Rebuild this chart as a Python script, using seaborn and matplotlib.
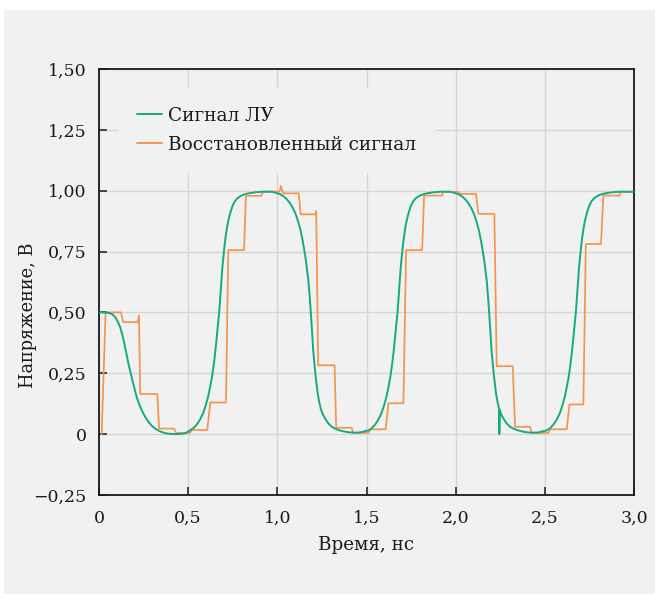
import matplotlib
matplotlib.use("Agg")
import matplotlib.pyplot as plt
import seaborn as sns
import pandas as pd
from matplotlib.patches import Rectangle

# ---- data ----
green_t = [0.0, 0.03, 0.06, 0.075, 0.09, 0.104, 0.118, 0.13, 0.142, 0.153, 0.165, 0.176, 0.187, 0.199, 0.211, 0.225,
           0.239, 0.258, 0.277, 0.295, 0.314, 0.34, 0.37, 0.40, 0.426, 0.455, 0.482,
           # rise 1
           0.509, 0.53, 0.547, 0.565, 0.584, 0.598, 0.612, 0.623, 0.634, 0.643, 0.651, 0.658, 0.664, 0.674, 0.683, 0.692,
           0.703, 0.71, 0.718, 0.727, 0.737, 0.748, 0.761, 0.778, 0.799, 0.82, 0.845, 0.88, 0.92, 0.97,
           # fall 1
           1.015, 1.035, 1.052, 1.072, 1.09, 1.105, 1.118, 1.131, 1.142, 1.151, 1.16, 1.174, 1.183, 1.192, 1.201, 1.213,
           1.226, 1.234, 1.243, 1.254, 1.267, 1.285, 1.304, 1.325, 1.351, 1.38, 1.407, 1.435, 1.463,
           # rise 2
           1.509, 1.53, 1.547, 1.565, 1.584, 1.598, 1.612, 1.623, 1.634, 1.643, 1.651, 1.658, 1.664, 1.674, 1.683, 1.692,
           1.703, 1.71, 1.718, 1.727, 1.737, 1.748, 1.761, 1.778, 1.799, 1.82, 1.845, 1.88, 1.92, 1.97,
           # fall 2 (with glitch)
           2.015, 2.035, 2.052, 2.072, 2.09, 2.105, 2.118, 2.131, 2.142, 2.151, 2.16, 2.174, 2.183, 2.192, 2.201, 2.213,
           2.226, 2.234, 2.242, 2.244, 2.245, 2.247, 2.254, 2.267, 2.285, 2.304, 2.325, 2.351, 2.38, 2.407, 2.435, 2.463,
           # rise 3
           2.509, 2.53, 2.547, 2.565, 2.584, 2.598, 2.612, 2.623, 2.634, 2.643, 2.651, 2.658, 2.664, 2.674, 2.683, 2.692,
           2.703, 2.71, 2.718, 2.727, 2.737, 2.748, 2.761, 2.778, 2.799, 2.82, 2.845, 2.88, 2.92, 2.97, 3.0]
green_v = [0.5, 0.5, 0.497, 0.492, 0.482, 0.464, 0.441, 0.41, 0.373, 0.333, 0.29, 0.256, 0.222, 0.187, 0.153, 0.124,
           0.099, 0.072, 0.051, 0.035, 0.023, 0.012, 0.004, 0.001, 0.0, 0.001, 0.003,
           # rise 1
           0.015, 0.025, 0.038, 0.058, 0.086, 0.117, 0.154, 0.193, 0.236, 0.283, 0.332, 0.38, 0.427, 0.5, 0.591, 0.686,
           0.768, 0.81, 0.85, 0.883, 0.911, 0.936, 0.956, 0.97, 0.98, 0.986, 0.99, 0.994, 0.996, 0.996,
           # fall 1
           0.986, 0.977, 0.966, 0.948, 0.925, 0.9, 0.87, 0.835, 0.795, 0.756, 0.714, 0.632, 0.55, 0.454, 0.345, 0.25,
           0.168, 0.135, 0.106, 0.083, 0.065, 0.045, 0.031, 0.022, 0.015, 0.01, 0.007, 0.006, 0.007,
           # rise 2
           0.015, 0.025, 0.038, 0.058, 0.086, 0.117, 0.154, 0.193, 0.236, 0.283, 0.332, 0.38, 0.427, 0.5, 0.591, 0.686,
           0.768, 0.81, 0.85, 0.883, 0.911, 0.936, 0.956, 0.97, 0.98, 0.986, 0.99, 0.994, 0.996, 0.996,
           # fall 2
           0.986, 0.977, 0.966, 0.948, 0.925, 0.9, 0.87, 0.835, 0.795, 0.756, 0.714, 0.632, 0.55, 0.454, 0.345, 0.25,
           0.168, 0.135, 0.108, 0.104, 0.0, 0.10, 0.083, 0.065, 0.045, 0.031, 0.022, 0.015, 0.01, 0.007, 0.006, 0.007,
           # rise 3
           0.015, 0.025, 0.038, 0.058, 0.086, 0.117, 0.154, 0.193, 0.236, 0.283, 0.332, 0.38, 0.427, 0.5, 0.591, 0.686,
           0.768, 0.81, 0.85, 0.883, 0.911, 0.936, 0.956, 0.97, 0.98, 0.986, 0.99, 0.994, 0.996, 0.996, 0.995]

orange_t = [0.015, 0.037, 0.123, 0.136, 0.217, 0.224, 0.231, 0.327, 0.337, 0.421, 0.432, 0.51, 0.52, 0.607, 0.624,
            0.712, 0.725, 0.813, 0.824, 0.91, 0.919, 1.012, 1.02, 1.033, 1.12, 1.131, 1.213, 1.218, 1.229, 1.321, 1.33,
            1.417, 1.425, 1.51, 1.523, 1.608, 1.623, 1.707, 1.722, 1.812, 1.823, 1.922, 1.931, 2.015, 2.025, 2.114, 2.127,
            2.217, 2.23, 2.32, 2.333, 2.417, 2.426, 2.52, 2.53, 2.623, 2.638, 2.716, 2.73, 2.815, 2.828, 2.918, 2.925, 3.0]
orange_v = [0.0, 0.5, 0.5, 0.46, 0.46, 0.487, 0.165, 0.165, 0.023, 0.023, 0.005, 0.005, 0.017, 0.017, 0.13,
            0.13, 0.756, 0.756, 0.979, 0.979, 0.996, 0.996, 1.019, 0.989, 0.989, 0.903, 0.903, 0.917, 0.283, 0.283, 0.026,
            0.026, 0.005, 0.005, 0.02, 0.02, 0.127, 0.127, 0.756, 0.756, 0.98, 0.98, 0.995, 0.995, 0.987, 0.987, 0.905,
            0.905, 0.279, 0.279, 0.03, 0.03, 0.005, 0.005, 0.02, 0.02, 0.122, 0.122, 0.781, 0.781, 0.98, 0.98, 0.995, 0.995]

x_ticks = [0, 0.5, 1.0, 1.5, 2.0, 2.5, 3.0]
x_tick_labels = ["0", "0,5", "1,0", "1,5", "2,0", "2,5", "3,0"]
y_ticks = [-0.25, 0, 0.25, 0.5, 0.75, 1.0, 1.25, 1.5]
y_tick_labels = ["\u22120,25", "0", "0,25", "0,50", "0,75", "1,00", "1,25", "1,50"]

series_names = ["Сигнал ЛУ", "Восстановленный сигнал"]
x_label = "Время, нс"
y_label = "Напряжение, В"

# ---- styling ----
BG = "#f1f1f1"
GREEN = "#15ab7e"
ORANGE = "#f5954c"
INK = "#1a1a1a"

sns.set_theme(style="ticks")
plt.rcParams["font.family"] = ["DejaVu Serif", "DejaVu Sans"]

fig = plt.figure(figsize=(6.55, 5.94), dpi=100, facecolor="white")
fig.patches.append(Rectangle((4 / 655, 0), 1 - 4 / 655, 1 - 10 / 594, transform=fig.transFigure,
                             facecolor=BG, edgecolor="none", zorder=-10))
ax = fig.add_axes([99 / 655, 1 - 495 / 594, 535 / 655, 426 / 594])
ax.set_facecolor(BG)

df_g = pd.DataFrame({"t": green_t, "v": green_v})
df_o = pd.DataFrame({"t": orange_t, "v": orange_v})

sns.lineplot(data=df_g, x="t", y="v", ax=ax, color=GREEN, linewidth=1.4, estimator=None, sort=False,
             label=series_names[0], zorder=3)
sns.lineplot(data=df_o, x="t", y="v", ax=ax, color=ORANGE, linewidth=1.25, estimator=None, sort=False,
             label=series_names[1], zorder=2)

ax.set_xlim(0, 3.0)
ax.set_ylim(-0.25, 1.5)
ax.set_xticks(x_ticks)
ax.set_xticklabels(x_tick_labels)
ax.set_yticks(y_ticks)
ax.set_yticklabels(y_tick_labels)

ax.grid(True, color="#d5d5d5", linewidth=1.0)
ax.set_axisbelow(True)
for s in ax.spines.values():
    s.set_visible(True)
    s.set_color(INK)
    s.set_linewidth(1.3)

ax.tick_params(axis="both", direction="in", length=6, width=1.1, color=INK,
               labelsize=12.5, labelcolor=INK)
ax.tick_params(axis="x", pad=11)
ax.tick_params(axis="y", pad=9)

ax.set_xlabel(x_label, fontsize=13.2, color=INK, labelpad=6)
ax.set_ylabel(y_label, fontsize=12.8, color=INK)
ax.yaxis.set_label_coords(-0.116, 0.4225)

leg = ax.legend(loc="upper left", bbox_to_anchor=(0.036, 0.955), borderaxespad=0, borderpad=1.0,
                frameon=True, fancybox=False, facecolor=BG, edgecolor=BG, framealpha=1,
                fontsize=13.3, handlelength=1.35, handletextpad=0.35, labelspacing=0.6)
for line in leg.get_lines():
    line.set_linewidth(1.4)
for txt in leg.get_texts():
    txt.set_color(INK)

fig.savefig("out.png", dpi=100, facecolor="white")
